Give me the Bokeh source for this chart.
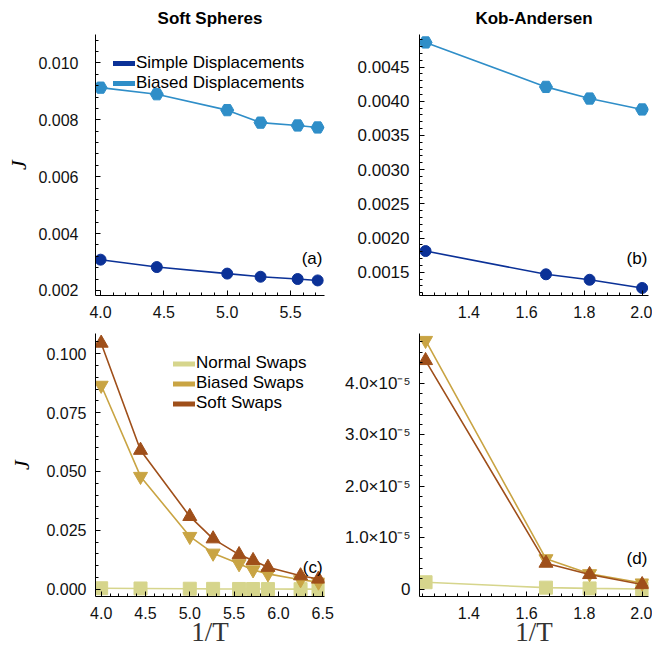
import numpy as np
from bokeh.plotting import figure
from bokeh.layouts import column, row
from bokeh.models import (FixedTicker, NumeralTickFormatter, CustomJSTickFormatter,
                          Range1d, Legend, LegendItem, Label)
from bokeh.embed import file_html
from bokeh.resources import INLINE

# ---------------- data ----------------
ss_x = [4.0, 4.444, 5.0, 5.263, 5.556, 5.714]
ss_simple = [0.00308, 0.00282, 0.00259, 0.00248, 0.00240, 0.00235]
ss_biased = [0.00913, 0.00890, 0.00834, 0.00790, 0.00780, 0.00773]

ka_x = [1.25, 1.667, 1.818, 2.0]
ka_simple = [0.00181, 0.00147, 0.00139, 0.00127]
ka_biased = [0.00486, 0.00421, 0.00404, 0.00388]

ss_swap_x = [4.0, 4.444, 5.0, 5.263, 5.556, 5.714, 5.882, 6.25, 6.452]
ss_normal_swap = [0.0004, 0.0003, 0.0002, 0.00015, 0.0001, 0.00008, 0.00006, 0.00003, 0.00002]
ss_biased_swap = [0.0866, 0.0479, 0.0224, 0.0153, 0.0108, 0.0082, 0.0065, 0.0040, 0.0030]
ss_soft_swap = [0.1045, 0.0590, 0.0309, 0.0214, 0.0147, 0.0122, 0.0093, 0.0057, 0.0043]

ka_normal_swap = [1.35e-6, 3.0e-7, 1.5e-7, 5.0e-8]
ka_biased_swap = [4.83e-5, 5.9e-6, 3.0e-6, 1.2e-6]
ka_soft_swap = [4.44e-5, 5.05e-6, 2.85e-6, 0.9e-6]

titles = ["Soft Spheres", "Kob-Andersen"]
disp_names = ["Simple Displacements", "Biased Displacements"]
swap_names = ["Normal Swaps", "Biased Swaps", "Soft Swaps"]

C_SIMPLE = "#0b3197"
C_BIASED = "#2f8ec8"
C_NORMAL = "#d6d58c"
C_BSWAP = "#c9a443"
C_SOFT = "#9f4f1a"

FONT = "Liberation Sans"
SERIF = "Liberation Serif"


def ticks(a, b, step):
    n = int(round((b - a) / step))
    return [round(a + i * step, 10) for i in range(n + 1)]


def make_fig(w, h, bl, br, bt, bb, xr, yr, title=None):
    p = figure(width=w, height=h, output_backend="svg", toolbar_location=None,
               x_range=Range1d(*xr), y_range=Range1d(*yr),
               min_border_left=bl, min_border_right=br,
               min_border_top=bt, min_border_bottom=bb,
               title=title)
    p.outline_line_color = None
    p.grid.visible = False
    p.background_fill_color = "white"
    if title:
        p.title.align = "center"
        p.title.text_font = FONT
        p.title.text_font_size = "17px"
        p.title.text_font_style = "bold"
        p.title.standoff = 13
        p.title.text_color = "black"
    for ax in (p.xaxis[0], p.yaxis[0]):
        ax.axis_line_color = "black"
        ax.axis_line_width = 1
        ax.major_tick_in = 5
        ax.major_tick_out = 0
        ax.minor_tick_in = 3
        ax.minor_tick_out = 0
        ax.major_tick_line_color = "black"
        ax.minor_tick_line_color = "black"
        ax.major_label_text_font = FONT
        ax.major_label_text_font_size = "16px"
        ax.major_label_text_color = "#111111"
    p.xaxis.major_label_standoff = 10
    p.yaxis.major_label_standoff = 10
    # off-screen range used only for the legend swatches
    p.extra_y_ranges = {"swatch": Range1d(10, 20)}
    return p


def ylab(p, standoff):
    p.yaxis.axis_label = "J"
    p.yaxis.axis_label_text_font = SERIF
    p.yaxis.axis_label_text_font_style = "italic"
    p.yaxis.axis_label_text_font_size = "22px"
    p.yaxis.axis_label_standoff = standoff
    p.yaxis.axis_label_text_color = "black"


def xlab(p):
    p.xaxis.axis_label = "1/T"
    p.xaxis.axis_label_text_font = SERIF
    p.xaxis.axis_label_text_font_style = "normal"
    p.xaxis.axis_label_text_font_size = "27px"
    p.xaxis.axis_label_standoff = -5
    p.xaxis.axis_label_text_color = "#333333"


def panel_label(p, x, y, t):
    p.add_layout(Label(x=x, y=y, text=t, text_align="right", text_baseline="middle",
                       text_font=FONT, text_font_size="17px", text_color="black"))


def legend_line(p, xs, ys, color):
    # thick swatch line for the legend, mapped to an off-screen range
    return p.line(xs, ys, y_range_name="swatch", color=color, line_width=5,
                  line_cap="round")


def legend(p, items, loc, h):
    lg = Legend(items=items, location=loc, background_fill_alpha=0,
                border_line_color=None, padding=0, margin=0, spacing=0,
                label_standoff=1, glyph_width=22, glyph_height=h, label_height=h,
                label_text_font=FONT, label_text_font_size="17px",
                label_text_color="black")
    p.add_layout(lg, "center")


# ---------------- panel (a) ----------------
pa = make_fig(334, 325, 95, 10, 33, 30, (3.96, 5.768), (0.00182, 0.011), titles[0])
pa.xaxis.ticker = FixedTicker(ticks=[4.0, 4.5, 5.0, 5.5], minor_ticks=ticks(3.9, 5.8, 0.1))
pa.yaxis.ticker = FixedTicker(ticks=ticks(0.002, 0.010, 0.002), minor_ticks=ticks(0.0016, 0.0112, 0.0004))
pa.xaxis.formatter = NumeralTickFormatter(format="0.0")
pa.yaxis.formatter = NumeralTickFormatter(format="0.000")
pa.yaxis.major_label_standoff = 17
ylab(pa, 4)
pa.line(ss_x, ss_simple, color=C_SIMPLE, line_width=1.6)
pa.scatter(ss_x, ss_simple, marker="circle", size=11, color=C_SIMPLE)
pa.line(ss_x, ss_biased, color=C_BIASED, line_width=1.6)
pa.scatter(ss_x, ss_biased, marker="hex", size=13, color=C_BIASED)
la1 = legend_line(pa, ss_x, ss_simple, C_SIMPLE)
la2 = legend_line(pa, ss_x, ss_biased, C_BIASED)
legend(pa, [LegendItem(label=disp_names[0], renderers=[la1]),
            LegendItem(label=disp_names[1], renderers=[la2])], (18, 202), 18)
panel_label(pa, 5.752, 0.00312, "(a)")

# ---------------- panel (b) ----------------
pb = make_fig(318, 325, 85, 4, 33, 30, (1.229, 2.022), (0.00116, 0.004976), titles[1])
pb.xaxis.ticker = FixedTicker(ticks=[1.4, 1.6, 1.8, 2.0], minor_ticks=ticks(1.2, 2.04, 0.04))
pb.yaxis.ticker = FixedTicker(ticks=ticks(0.0015, 0.0045, 0.0005), minor_ticks=ticks(0.0011, 0.005, 0.0001))
pb.xaxis.formatter = NumeralTickFormatter(format="0.0")
pb.yaxis.formatter = NumeralTickFormatter(format="0.0000")
pb.yaxis.major_label_text_font_size = "17px"
pb.line(ka_x, ka_simple, color=C_SIMPLE, line_width=1.6)
pb.scatter(ka_x, ka_simple, marker="circle", size=11, color=C_SIMPLE)
pb.line(ka_x, ka_biased, color=C_BIASED, line_width=1.6)
pb.scatter(ka_x, ka_biased, marker="hex", size=13, color=C_BIASED)
panel_label(pb, 2.018, 0.0017, "(b)")

# ---------------- panel (c) ----------------
pc = make_fig(334, 325, 95, 10, 8, 54, (3.936, 6.52), (-0.0031, 0.1086))
pc.xaxis.ticker = FixedTicker(ticks=ticks(4.0, 6.5, 0.5), minor_ticks=ticks(3.9, 6.5, 0.1))
pc.yaxis.ticker = FixedTicker(ticks=ticks(0.0, 0.1, 0.025), minor_ticks=ticks(0.0, 0.105, 0.005))
pc.xaxis.formatter = NumeralTickFormatter(format="0.0")
pc.yaxis.formatter = NumeralTickFormatter(format="0.000")
pc.yaxis.major_label_standoff = 9
ylab(pc, 9)
xlab(pc)
pc.line(ss_swap_x, ss_normal_swap, color=C_NORMAL, line_width=1.6)
pc.scatter(ss_swap_x, ss_normal_swap, marker="square", size=13, color=C_NORMAL)
pc.line(ss_swap_x, ss_biased_swap, color=C_BSWAP, line_width=1.6)
pc.scatter(ss_swap_x, ss_biased_swap, marker="inverted_triangle", size=14, color=C_BSWAP)
pc.line(ss_swap_x, ss_soft_swap, color=C_SOFT, line_width=1.6)
pc.scatter(ss_swap_x, ss_soft_swap, marker="triangle", size=14, color=C_SOFT)
lc1 = legend_line(pc, ss_swap_x, ss_normal_swap, C_NORMAL)
lc2 = legend_line(pc, ss_swap_x, ss_biased_swap, C_BSWAP)
lc3 = legend_line(pc, ss_swap_x, ss_soft_swap, C_SOFT)
legend(pc, [LegendItem(label=swap_names[0], renderers=[lc1]),
            LegendItem(label=swap_names[1], renderers=[lc2]),
            LegendItem(label=swap_names[2], renderers=[lc3])], (78, 183), 19)
panel_label(pc, 6.498, 0.0092, "(c)")

# ---------------- panel (d) ----------------
pd_ = make_fig(318, 325, 85, 4, 8, 54, (1.229, 2.022), (-0.142e-5, 4.965e-5))
pd_.xaxis.ticker = FixedTicker(ticks=[1.4, 1.6, 1.8, 2.0], minor_ticks=ticks(1.2, 2.04, 0.04))
pd_.yaxis.ticker = FixedTicker(ticks=[0.0, 1e-5, 2e-5, 3e-5, 4e-5], minor_ticks=ticks(0.0, 4.8e-5, 0.2e-5))
pd_.xaxis.formatter = NumeralTickFormatter(format="0.0")
pd_.yaxis.formatter = CustomJSTickFormatter(code="""
    if (Math.abs(tick) < 1e-12) { return '0'; }
    return (tick * 1e5).toFixed(1) + '\u00d710\u207b\u2075';
""")
pd_.yaxis.major_label_standoff = 9
pd_.yaxis.major_label_text_font_size = "17px"
xlab(pd_)
pd_.line(ka_x, ka_normal_swap, color=C_NORMAL, line_width=1.6)
pd_.scatter(ka_x, ka_normal_swap, marker="square", size=13, color=C_NORMAL)
pd_.line(ka_x, ka_biased_swap, color=C_BSWAP, line_width=1.6)
pd_.scatter(ka_x, ka_biased_swap, marker="inverted_triangle", size=14, color=C_BSWAP)
pd_.line(ka_x, ka_soft_swap, color=C_SOFT, line_width=1.6)
pd_.scatter(ka_x, ka_soft_swap, marker="triangle", size=14, color=C_SOFT)
panel_label(pd_, 2.018, 0.596e-5, "(d)")

layout = column(row(pa, pb), row(pc, pd_))
open("out.html", "w").write(file_html(layout, INLINE))
